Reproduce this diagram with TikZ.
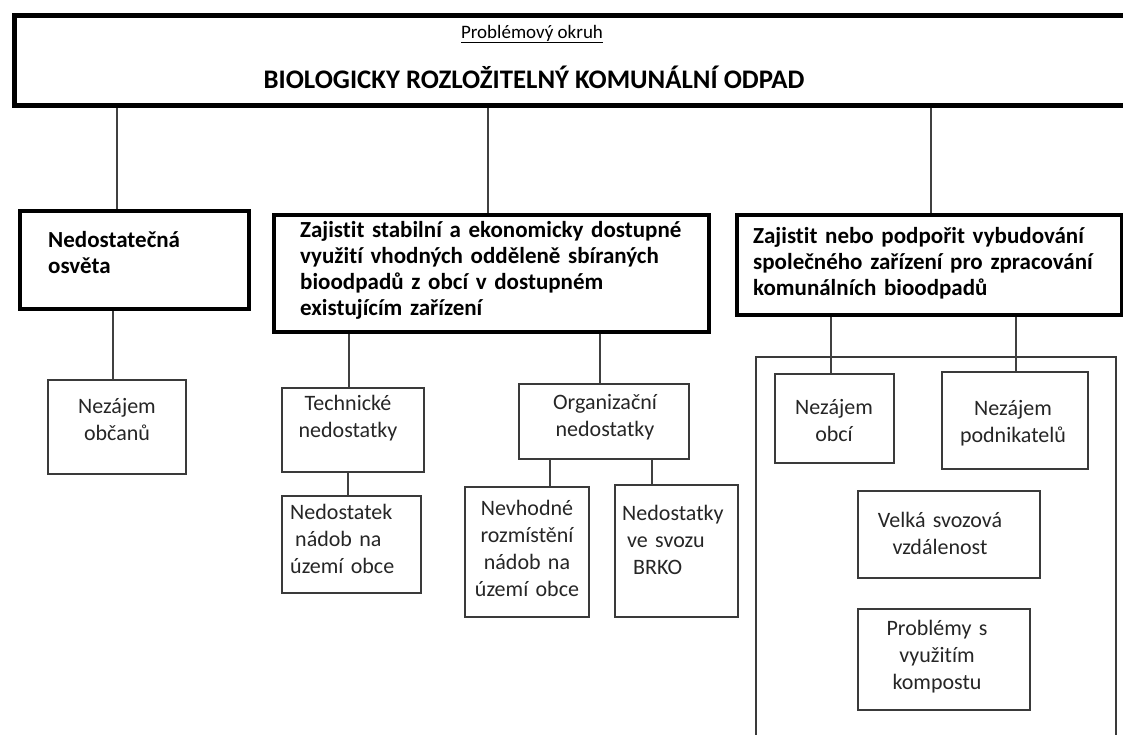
\documentclass[tikz,border=0pt]{standalone}
\usepackage{fontspec}
\setmainfont{Carlito}[Ligatures=NoCommon]
\definecolor{boxgray}{HTML}{3A3A3A}
\definecolor{linegray}{HTML}{404040}
\definecolor{txtgray}{HTML}{262626}
\begin{document}
\begin{tikzpicture}[x=1pt,y=-1pt,
  topbox/.style={draw=black,line width=4.5pt,inner sep=0pt,anchor=north west},
  thickbox/.style={draw=black,line width=4pt,inner sep=0pt,anchor=north west},
  thinbox/.style={draw=boxgray,line width=1.5pt,inner sep=0pt,anchor=north west},
  conn/.style={draw=linegray,line width=1.5pt},
  btxt/.style={font=\fontsize{23}{26}\selectfont\bfseries,text=black,inner sep=0pt,align=left,text width=#1,anchor=base west},
  ltxt/.style={font=\fontsize{22}{27}\selectfont,text=txtgray,inner sep=0pt,align=left,text width=#1,anchor=base west},
  ctxt/.style={font=\fontsize{22}{27}\selectfont,text=txtgray,inner sep=0pt,align=center,text width=#1,anchor=base}]
\useasboundingbox (0,0) rectangle (1123,734);
\clip (0,0) rectangle (1123,734);
\fill[white] (0,0) rectangle (1123,734);

% boxes
\node[topbox,minimum width=1130pt,minimum height=90pt] (top) at (12,13) {};
\node[thickbox,minimum width=229pt,minimum height=98pt] (b1) at (18,209) {};
\node[thickbox,minimum width=435pt,minimum height=117pt] (b2) at (272,213) {};
\node[thickbox,minimum width=385pt,minimum height=100pt] (b3) at (735,213) {};
\node[thinbox,minimum width=138pt,minimum height=94pt] (nob) at (47,379) {};
\node[thinbox,minimum width=142pt,minimum height=84pt] (tech) at (281,387) {};
\node[thinbox,minimum width=139pt,minimum height=97pt] (ned) at (281,495) {};
\node[thinbox,minimum width=170pt,minimum height=75pt] (org) at (518,383) {};
\node[thinbox,minimum width=124pt,minimum height=130pt] (nev) at (464,486) {};
\node[thinbox,minimum width=123pt,minimum height=132pt] (nsv) at (614,484) {};
\draw[draw=boxgray,line width=1.5pt] (756,357) rectangle (1116,770);
\node[thinbox,minimum width=119pt,minimum height=89pt] (nobci) at (774,373) {};
\node[thinbox,minimum width=146pt,minimum height=97pt] (npod) at (941,371) {};
\node[thinbox,minimum width=182pt,minimum height=87pt] (velka) at (857,490) {};
\node[thinbox,minimum width=172pt,minimum height=101pt] (probl) at (857,608) {};

% texts
\node[font=\fontsize{19}{22}\selectfont,text=black,inner sep=0pt,anchor=base] (t0) at (532,38) {\underline{Problémový okruh}};
\node[font=\fontsize{26.8}{30}\selectfont\bfseries,text=black,inner sep=0pt,anchor=base] (t1) at (534,88) {BIOLOGICKY ROZLOŽITELNÝ KOMUNÁLNÍ ODPAD};
\node[btxt=190pt] (tb1) at (48,247) {Nedostatečná\\osvěta};
\node[btxt=420pt] (tb2) at (300,237) {Zajistit stabilní a ekonomicky dostupné\\využití vhodných odděleně sbíraných\\bioodpadů z obcí v dostupném\\existujícím zařízení};
\node[btxt=380pt] (tb3) at (753,243) {Zajistit nebo podpořit vybudování\\společného zařízení pro zpracování\\komunálních bioodpadů};
\node[ctxt=130pt] (tnob) at (117,413) {Nezájem\\občanů};
\node[ctxt=135pt] (ttech) at (348,410) {Technické\\nedostatky};
\node[ltxt=130pt] (tned) at (290,519) {Nedostatek\\\hspace*{5pt}nádob na\\území obce};
\node[ctxt=160pt] (torg) at (605,409) {Organizační\\nedostatky};
\node[ctxt=120pt] (tnev) at (527,515) {Nevhodné\\rozmístění\\nádob na\\území obce};
\node[ltxt=115pt] (tnsv) at (622,520) {Nedostatky\\\hspace*{5pt}ve svozu\\\hspace*{11pt}BRKO};
\node[ctxt=115pt] (tnobci) at (834,414) {Nezájem\\obcí};
\node[ctxt=140pt] (tnpod) at (1013,415) {Nezájem\\podnikatelů};
\node[ctxt=175pt] (tvelka) at (940,527) {Velká svozová\\vzdálenost};
\node[ctxt=165pt] (tprobl) at (937,635) {Problémy s\\využitím\\kompostu};

% connectors
\draw[conn] (117,0 |- top.south) -- (117,0 |- b1.north);
\draw[conn] (488,0 |- top.south) -- (488,0 |- b2.north);
\draw[conn] (931,0 |- top.south) -- (931,0 |- b3.north);
\draw[conn] (113,0 |- b1.south) -- (113,0 |- nob.north);
\draw[conn] (349,0 |- b2.south) -- (349,0 |- tech.north);
\draw[conn] (600,0 |- b2.south) -- (600,0 |- org.north);
\draw[conn] (348,0 |- tech.south) -- (348,0 |- ned.north);
\draw[conn] (550,0 |- org.south) -- (550,0 |- nev.north);
\draw[conn] (652,0 |- org.south) -- (652,0 |- nsv.north);
\draw[conn] (831,0 |- b3.south) -- (831,0 |- nobci.north);
\draw[conn] (1016,0 |- b3.south) -- (1016,0 |- npod.north);
\end{tikzpicture}
\end{document}
